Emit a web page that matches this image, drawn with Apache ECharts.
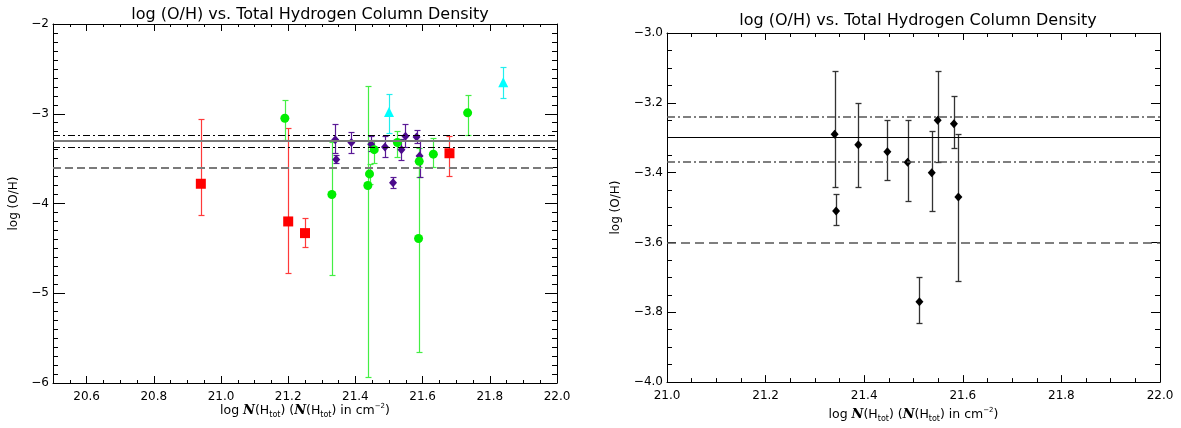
<!DOCTYPE html>
<html><head><meta charset="utf-8">
<script src="https://cdn.jsdelivr.net/npm/echarts@6/dist/echarts.min.js"></script>
<style>html,body{margin:0;padding:0;background:#fff}#c{width:1181px;height:428px}</style>
</head><body><div id="c"></div>
<script>
// ---------- data ----------
const titleText = 'log (O/H) vs. Total Hydrogen Column Density';
const yName = 'log (O/H)';
const leftXRange = [20.5, 22.0];
const leftYRange = [-6, -2];
const rightXRange = [21.0, 22.0];
const rightYRange = [-4.0, -3.0];
const leftXTickValues = [20.6, 20.8, 21.0, 21.2, 21.4, 21.6, 21.8, 22.0];

const redX  = [20.94, 21.20, 21.25, 21.68];
const redY  = [-3.78, -4.20, -4.33, -3.44];
const redLo = [-4.13, -4.77, -4.49, -3.69];
const redHi = [-3.06, -3.16, -4.16, -3.25];

const greenX  = [21.19, 21.33, 21.437, 21.442, 21.456, 21.525, 21.59, 21.588, 21.632, 21.734];
const greenY  = [-3.05, -3.90, -3.80, -3.67, -3.40, -3.32, -3.53, -4.39, -3.45, -2.99];
const greenLo = [-3.29, -4.80, -5.93, -3.78, -3.55, -3.48, -3.70, -5.65, -3.59, -3.24];
const greenHi = [-2.85, -3.32, -2.69, -3.56, -3.29, -3.19, -3.38, -3.59, -3.27, -2.79];

const cyanX  = [21.50, 21.84];
const cyanY  = [-2.98, -2.65];
const cyanLo = [-3.22, -2.83];
const cyanHi = [-2.78, -2.48];

const ohX  = [21.340, 21.343, 21.388, 21.447, 21.488, 21.512, 21.537, 21.549, 21.582, 21.591];
const ohY  = [-3.29, -3.51, -3.32, -3.34, -3.37, -3.77, -3.40, -3.25, -3.26, -3.47];
const ohLo = [-3.44, -3.55, -3.44, -3.42, -3.48, -3.83, -3.51, -3.37, -3.33, -3.71];
const ohHi = [-3.11, -3.46, -3.20, -3.25, -3.25, -3.70, -3.28, -3.11, -3.18, -3.29];

const solidLevel = [-3.30];
const dashDotLevels = [-3.24, -3.37];
const dashedLevel = [-3.60];

// ---------- helpers ----------
const FONT = 'DejaVu Sans';
const minus = (v, d) => (v < 0 ? '\u2212' : '') + Math.abs(v).toFixed(d);

function errSeries(xs, lo, hi, color, xi, yi, cap, width) {
  return {
    type: 'custom', xAxisIndex: xi, yAxisIndex: yi, silent: true, z: 2,
    data: xs.map((x, i) => [x, lo[i], hi[i]]),
    encode: { x: 0, y: [1, 2] },
    renderItem: (params, api) => {
      const p1 = api.coord([api.value(0), api.value(2)]);
      const p2 = api.coord([api.value(0), api.value(1)]);
      const x = Math.round(p1[0]) + 0.5;
      const y1 = Math.round(p1[1]) + 0.5, y2 = Math.round(p2[1]) + 0.5;
      const style = { stroke: color, lineWidth: width };
      return { type: 'group', children: [
        { type: 'line', shape: { x1: x, y1: y1, x2: x, y2: y2 }, style },
        { type: 'line', shape: { x1: x - cap, y1: y1, x2: x + cap, y2: y1 }, style },
        { type: 'line', shape: { x1: x - cap, y1: y2, x2: x + cap, y2: y2 }, style }
      ]};
    }
  };
}
function scatter(xs, ys, symbol, size, color, xi, yi, extra) {
  return Object.assign({
    type: 'scatter', xAxisIndex: xi, yAxisIndex: yi, z: 3, silent: true,
    data: xs.map((x, i) => [x, ys[i]]), symbol, symbolSize: size,
    itemStyle: { color, opacity: 1 }
  }, extra || {});
}
function levels(solidStyle, ddStyle, dashStyle) {
  return {
    symbol: 'none', silent: true, label: { show: false }, animation: false,
    data: [
      ...solidLevel.map(v => ({ yAxis: v, lineStyle: solidStyle })),
      ...dashDotLevels.map(v => ({ yAxis: v, lineStyle: ddStyle })),
      ...dashedLevel.map(v => ({ yAxis: v, lineStyle: dashStyle }))
    ]
  };
}
const xNameRich = {
  n: { fontFamily: 'DejaVu Serif', fontStyle: 'italic', fontWeight: 'bold', fontSize: 13, color: '#000' },
  s: { fontFamily: FONT, fontSize: 8, verticalAlign: 'bottom', color: '#000', lineHeight: 16 },
  p: { fontFamily: FONT, fontSize: 7, verticalAlign: 'top', color: '#000', lineHeight: 16 }
};
const xNameText = 'log {n|N}(H{s|tot}) ({n|N}(H{s|tot}) in cm{p|\u22122})';
const blackLine = { color: '#000', width: 1 };
const lblStyle = { color: '#000', fontFamily: FONT, fontSize: 12 };
const titleStyle = { fontFamily: FONT, fontSize: 16, fontWeight: 'normal', color: '#000' };

const chart = echarts.init(document.getElementById('c'), null, { renderer: 'canvas' });
chart.setOption({
  backgroundColor: '#fff',
  animation: false,
  title: [
    { text: titleText, left: 305, top: 2, textAlign: 'center', textStyle: titleStyle },
    { text: titleText, left: 913, top: 8, textAlign: 'center', textStyle: titleStyle }
  ],
  grid: [
    { left: 53, top: 24, width: 504, height: 359 },
    { left: 667, top: 33, width: 493, height: 351 }
  ],
  xAxis: [
    // left panel
    { gridIndex: 0, type: 'value', position: 'bottom', min: leftXRange[0], max: leftXRange[1], interval: 0.05,
      axisLine: { show: true, lineStyle: blackLine }, axisTick: { inside: true, length: 3, lineStyle: blackLine },
      axisLabel: { show: false }, splitLine: { show: false },
      name: xNameText, nameLocation: 'middle', nameGap: 20,
      nameTextStyle: { fontFamily: FONT, fontSize: 12.5, color: '#000', lineHeight: 16, rich: xNameRich } },
    { gridIndex: 0, type: 'value', position: 'bottom', min: leftXRange[0], max: leftXRange[1],
      axisLine: { show: false }, axisTick: { inside: true, length: 7, lineStyle: blackLine, customValues: leftXTickValues },
      axisLabel: Object.assign({ customValues: leftXTickValues, formatter: v => minus(v, 1), margin: 8 }, lblStyle),
      splitLine: { show: false } },
    { gridIndex: 0, type: 'value', position: 'top', min: leftXRange[0], max: leftXRange[1], interval: 0.05,
      axisLine: { show: true, lineStyle: blackLine }, axisTick: { inside: true, length: 3, lineStyle: blackLine },
      axisLabel: { show: false }, splitLine: { show: false } },
    { gridIndex: 0, type: 'value', position: 'top', min: leftXRange[0], max: leftXRange[1],
      axisLine: { show: false }, axisTick: { inside: true, length: 7, lineStyle: blackLine, customValues: leftXTickValues },
      axisLabel: { show: false }, splitLine: { show: false } },
    // right panel
    { gridIndex: 1, type: 'value', position: 'bottom', min: rightXRange[0], max: rightXRange[1], interval: 0.2,
      axisLine: { show: true, lineStyle: blackLine }, axisTick: { inside: true, length: 7, lineStyle: blackLine },
      minorTick: { show: true, splitNumber: 4, length: 4, lineStyle: blackLine },
      axisLabel: Object.assign({ formatter: v => minus(v, 1), margin: 8 }, lblStyle), splitLine: { show: false },
      name: xNameText, nameLocation: 'middle', nameGap: 19,
      nameTextStyle: { fontFamily: FONT, fontSize: 12.5, color: '#000', lineHeight: 16, rich: xNameRich } },
    { gridIndex: 1, type: 'value', position: 'top', min: rightXRange[0], max: rightXRange[1], interval: 0.2,
      axisLine: { show: true, lineStyle: blackLine }, axisTick: { inside: true, length: 7, lineStyle: blackLine },
      minorTick: { show: true, splitNumber: 4, length: 4, lineStyle: blackLine },
      axisLabel: { show: false }, splitLine: { show: false } }
  ],
  yAxis: [
    { gridIndex: 0, type: 'value', position: 'left', min: leftYRange[0], max: leftYRange[1], interval: 1,
      axisLine: { show: true, lineStyle: blackLine }, axisTick: { inside: true, length: 12, lineStyle: blackLine },
      minorTick: { show: true, splitNumber: 10, length: 5, lineStyle: blackLine },
      axisLabel: Object.assign({ formatter: v => minus(v, 0), margin: 4 }, lblStyle), splitLine: { show: false },
      name: yName, nameLocation: 'middle', nameGap: 33, nameRotate: 90,
      nameTextStyle: { fontFamily: FONT, fontSize: 12, color: '#000' } },
    { gridIndex: 0, type: 'value', position: 'right', min: leftYRange[0], max: leftYRange[1], interval: 1,
      axisLine: { show: true, lineStyle: blackLine }, axisTick: { inside: true, length: 12, lineStyle: blackLine },
      minorTick: { show: true, splitNumber: 10, length: 5, lineStyle: blackLine },
      axisLabel: { show: false }, splitLine: { show: false } },
    { gridIndex: 1, type: 'value', position: 'left', min: rightYRange[0], max: rightYRange[1], interval: 0.2,
      axisLine: { show: true, lineStyle: blackLine }, axisTick: { inside: true, length: 9, lineStyle: blackLine },
      minorTick: { show: true, splitNumber: 4, length: 5, lineStyle: blackLine },
      axisLabel: Object.assign({ formatter: v => minus(v, 1), margin: 4 }, lblStyle), splitLine: { show: false },
      name: yName, nameLocation: 'middle', nameGap: 45, nameRotate: 90,
      nameTextStyle: { fontFamily: FONT, fontSize: 12, color: '#000' } },
    { gridIndex: 1, type: 'value', position: 'right', min: rightYRange[0], max: rightYRange[1], interval: 0.2,
      axisLine: { show: true, lineStyle: blackLine }, axisTick: { inside: true, length: 9, lineStyle: blackLine },
      minorTick: { show: true, splitNumber: 4, length: 5, lineStyle: blackLine },
      axisLabel: { show: false }, splitLine: { show: false } }
  ],
  series: [
    // left panel
    errSeries(redX, redLo, redHi, '#ff3a3a', 0, 0, 3, 1.2),
    errSeries(greenX, greenLo, greenHi, '#44ee44', 0, 0, 3, 1.2),
    errSeries(cyanX, cyanLo, cyanHi, '#22eeee', 0, 0, 3, 1.2),
    errSeries(ohX, ohLo, ohHi, '#5a1a96', 0, 0, 3, 1.2),
    scatter(ohX, ohY, 'diamond', [8, 9], '#4b0a8c', 0, 0, {
      markLine: levels(
        { color: '#7a7a7a', width: 2, type: 'solid' },
        { color: '#000', width: 1, type: [7, 3, 2, 3] },
        { color: '#7a7a7a', width: 2, type: [8, 4] })
    }),
    scatter(redX, redY, 'rect', 10, '#ff0000', 0, 0),
    scatter(greenX, greenY, 'circle', 9, '#00ee00', 0, 0),
    scatter(cyanX, cyanY, 'triangle', 10, '#00ffff', 0, 0),
    // right panel
    errSeries(ohX, ohLo, ohHi, '#333', 4, 2, 3, 1.3),
    scatter(ohX, ohY, 'diamond', [8, 9], '#000', 4, 2, {
      markLine: levels(
        { color: '#000', width: 1, type: 'solid' },
        { color: '#555', width: 1.5, type: [8, 3, 2, 3] },
        { color: '#555', width: 1.5, type: [9, 5] })
    })
  ]
});
</script></body></html>
